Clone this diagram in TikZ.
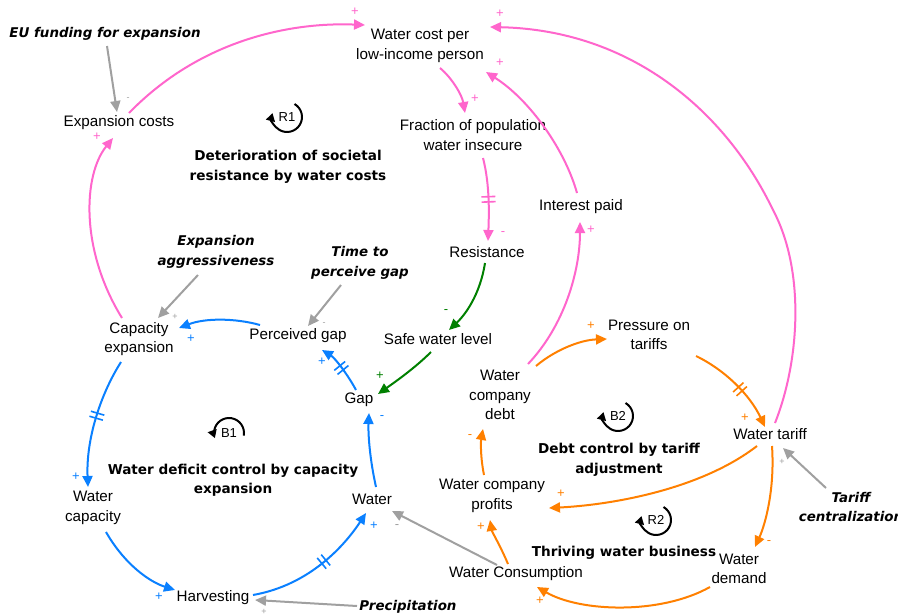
\documentclass[tikz,border=0pt]{standalone}
\usepackage{fontspec}
\setmainfont{Liberation Sans}
\newfontfamily\dv{DejaVu Sans}
\usetikzlibrary{arrows.meta,decorations.markings}
\definecolor{cpink}{RGB}{255,102,204}
\definecolor{cblue}{RGB}{10,128,255}
\definecolor{cgreen}{RGB}{0,128,0}
\definecolor{corange}{RGB}{255,128,0}
\definecolor{cgray}{RGB}{160,160,160}
\begin{document}
\begin{tikzpicture}[x=1pt,y=-1pt,
  lab/.style={inner sep=1pt, align=center, font=\fontsize{15.2}{19.5}\selectfont},
  exo/.style={inner sep=1pt, align=center, font=\dv\bfseries\itshape\fontsize{13.4}{19.5}\selectfont},
  ttl/.style={inner sep=1pt, align=center, font=\dv\bfseries\fontsize{13.6}{19.5}\selectfont},
  lnk/.style={line width=2pt, -{Triangle[length=11pt,width=10pt]}},
  pk/.style={lnk, draw=cpink},
  bl/.style={lnk, draw=cblue},
  gr/.style={lnk, draw=cgreen},
  og/.style={lnk, draw=corange},
  gy/.style={lnk, draw=cgray},
  sgn/.style={inner sep=0pt, text=#1, font=\fontsize{13}{13}\selectfont},
  sgs/.style={inner sep=0pt, text=cgray, font=\fontsize{9}{9}\selectfont},
  delaymark/.style={postaction={decorate}, decoration={markings,
    mark=at position #1 with {\draw[line width=1.6pt,-] (-2.6pt,-7pt)--(-2.6pt,7pt) (2.6pt,-7pt)--(2.6pt,7pt);}}},
  loopmk/.style={line width=2pt, draw=black, -{Triangle[length=8pt,width=9pt]}},
  looptx/.style={inner sep=0pt, font=\fontsize{13}{13}\selectfont}
]
\useasboundingbox[fill=white] (0,0) rectangle (898,616);

% variables
\node[exo] (euf) at (105,34) {EU funding for expansion};
\node[lab] (ec) at (119,123) {Expansion costs};
\node[lab] (wc) at (420,46) {Water cost per\\low-income person};
\node[lab] (fr) at (473,135) {Fraction of population\\water insecure};
\node[lab] (ip) at (581,207) {Interest paid};
\node[lab] (res) at (487,252) {Resistance};
\node[ttl] (t1) at (288,167) {Deterioration of societal\\resistance by water costs};
\node[exo] (ea) at (216,252) {Expansion\\aggressiveness};
\node[exo] (tpg) at (360,263) {Time to\\perceive gap};
\node[lab] (ce) at (139,339) {Capacity\\expansion};
\node[lab] (pg) at (298,336) {Perceived gap};
\node[lab] (swl) at (438,339) {Safe water level};
\node[lab] (pt) at (649,335) {Pressure on\\tariffs};
\node[lab] (wcd) at (500,395) {Water\\company\\debt};
\node[lab] (gap) at (359,400) {Gap};
\node[ttl] (t2) at (619,460) {Debt control by tariff\\adjustment};
\node[lab] (wt) at (770,434) {Water tariff};
\node[ttl] (t3) at (233,480) {Water deficit control by capacity\\expansion};
\node[lab] (wcap) at (93,508) {Water\\capacity};
\node[lab] (wat) at (372,499) {Water};
\node[lab] (wcp) at (492,496) {Water company\\profits};
\node[exo] (tc) at (851,507) {Tariff\\centralization};
\node[ttl] (t4) at (624,553) {Thriving water business};
\node[lab] (wd) at (739,569) {Water\\demand};
\node[lab] (wcon) at (516,574) {Water Consumption};
\node[lab] (har) at (213,598) {Harvesting};
\node[exo] (pre) at (408,607) {Precipitation};

% loop markers
\node[looptx] (r1) at (287,117) {R1};
\draw[loopmk] ([shift={(-60:15)}]r1.center) arc[start angle=-60, end angle=195, radius=15];
\node[looptx] (b1) at (229,433) {B1};
\draw[loopmk] ([shift={(10:15)}]b1.center) arc[start angle=10, end angle=-200, radius=15];
\node[looptx] (b2) at (618,416) {B2};
\draw[loopmk] ([shift={(-60:15)}]b2.center) arc[start angle=-60, end angle=195, radius=15];
\node[looptx] (r2) at (656,520) {R2};
\draw[loopmk] ([shift={(-60:15)}]r2.center) arc[start angle=-60, end angle=195, radius=15];

% pink links
\draw[pk] ([shift={(10,-10)}]ec.center) .. controls (200,40) and (290,22) .. ([shift={(-55,-21)}]wc.center);
\node[sgn=cpink] (s1) at (355,12) {+};
\draw[pk] ([shift={(-17,-21)}]ce.center) .. controls (80,250) and (83,175) .. ([shift={(-6,15)}]ec.center);
\node[sgn=cpink] (s3) at (97,137) {+};
\draw[pk] ([shift={(20,22)}]wc.center) .. controls (452,78) and (462,95) .. ([shift={(-8,-22)}]fr.center);
\node[sgn=cpink] (s4) at (475,99) {+};
\draw[pk, delaymark=0.5] ([shift={(10,23)}]fr.center) .. controls (490,185) and (489,215) .. ([shift={(1,-11)}]res.center);
\node[sgn=cpink] (s5) at (503,234) {-};
\draw[pk] ([shift={(-4,-14)}]ip.center) .. controls (565,150) and (530,100) .. ([shift={(66,26)}]wc.center);
\node[sgn=cpink] (s6) at (500,63) {+};
\draw[pk] ([shift={(28,-31)}]wcd.center) .. controls (565,325) and (580,270) .. ([shift={(-1,15)}]ip.center);
\node[sgn=cpink] (s7) at (591,230) {+};
\coordinate (wtarc) at (773,210);
\draw[pk] ([shift={(5,-11)}]wt.center) .. controls (800,360) and (805,270) .. (wtarc)
  .. controls (725,110) and (630,30) .. ([shift={(70,-19)}]wc.center);
\node[sgn=cpink] (s8) at (500,14) {+};

% blue links
\draw[bl] ([shift={(-38,-11)}]pg.center) .. controls (235,318) and (205,318) .. ([shift={(40,-11)}]ce.center);
\node[sgn=cblue] (s9) at (191,339) {+};
\draw[bl, delaymark=0.45] ([shift={(-18,23)}]ce.center) .. controls (100,395) and (86,440) .. ([shift={(-5,-21)}]wcap.center);
\node[sgn=cblue] (s10) at (76,477) {+};
\draw[bl] ([shift={(13,24)}]wcap.center) .. controls (125,565) and (150,582) .. ([shift={(-38,-8)}]har.center);
\node[sgn=cblue] (s11) at (159,597) {+};
\draw[bl, delaymark=0.55] ([shift={(40,-3)}]har.center) .. controls (310,585) and (345,545) .. ([shift={(-6,14)}]wat.center);
\node[sgn=cblue] (s12) at (374,526) {+};
\draw[bl] ([shift={(4,-12)}]wat.center) .. controls (370,460) and (368,435) .. ([shift={(10,13)}]gap.center);
\node[sgn=cblue] (s13) at (382,418) {-};
\draw[bl, delaymark=0.5] ([shift={(-3,-10)}]gap.center) .. controls (348,375) and (335,358) .. ([shift={(24,14)}]pg.center);
\node[sgn=cblue] (s14) at (322,362) {+};

% green links
\draw[gr] ([shift={(-2,11)}]res.center) .. controls (480,295) and (465,315) .. ([shift={(11,-9)}]swl.center);
\node[sgn=cgreen] (s17) at (446,312) {-};
\draw[gr] ([shift={(-7,13)}]swl.center) .. controls (415,368) and (395,382) .. ([shift={(19,-6)}]gap.center);
\node[sgn=cgreen] (s18) at (380,376) {+};

% gray links
\draw[gy] ([shift={(2,12)}]euf.center) -- ([shift={(-2,-11)}]ec.center);
\node[sgs] (s2) at (128,99) {-};
\draw[gy] ([shift={(-51,-1)}]pre.center) -- ([shift={(42,2)}]har.center);
\node[sgs] (s15) at (264,612) {+};
\draw[gy] ([shift={(-19,-9)}]wcon.center) -- ([shift={(20,12)}]wat.center);
\node[sgn=cgray] (s16) at (397,527) {-};
\draw[gy] ([shift={(-19,22)}]tpg.center) -- ([shift={(10,-10)}]pg.center);
\node[sgs] (s19) at (324,324) {-};
\draw[gy] ([shift={(-18,23)}]ea.center) -- ([shift={(19,-21)}]ce.center);
\node[sgs] (s20) at (175,317) {+};
\draw[gy] ([shift={(-25,-19)}]tc.center) -- ([shift={(13,14)}]wt.center);
\node[sgs] (s21) at (782,462) {+};

% orange links
\draw[og] ([shift={(36,-29)}]wcd.center) .. controls (555,350) and (580,340) .. ([shift={(-42,4)}]pt.center);
\node[sgn=corange] (s22) at (591,326) {+};
\draw[og, delaymark=0.55] ([shift={(47,21)}]pt.center) .. controls (725,370) and (750,395) .. ([shift={(-5,-7)}]wt.center);
\node[sgn=corange] (s23) at (745,418) {+};
\draw[og] ([shift={(-13,12)}]wt.center) .. controls (700,490) and (610,505) .. ([shift={(57,12)}]wcp.center);
\node[sgn=corange] (s24) at (561,494) {+};
\draw[og] ([shift={(2,12)}]wt.center) .. controls (775,490) and (765,525) .. ([shift={(16,-22)}]wd.center);
\node[sgn=corange] (s25) at (769,543) {-};
\draw[og] ([shift={(-29,18)}]wd.center) .. controls (660,615) and (580,612) .. ([shift={(21,13)}]wcon.center);
\node[sgn=corange] (s26) at (540,601) {+};
\draw[og] ([shift={(-8,-10)}]wcon.center) .. controls (500,545) and (492,532) .. ([shift={(-2,24)}]wcp.center);
\node[sgn=corange] (s27) at (481,527) {+};
\draw[og] ([shift={(-8,-21)}]wcp.center) .. controls (480,455) and (481,440) .. ([shift={(-17,34)}]wcd.center);
\node[sgn=corange] (s28) at (470,437) {-};
\end{tikzpicture}
\end{document}
